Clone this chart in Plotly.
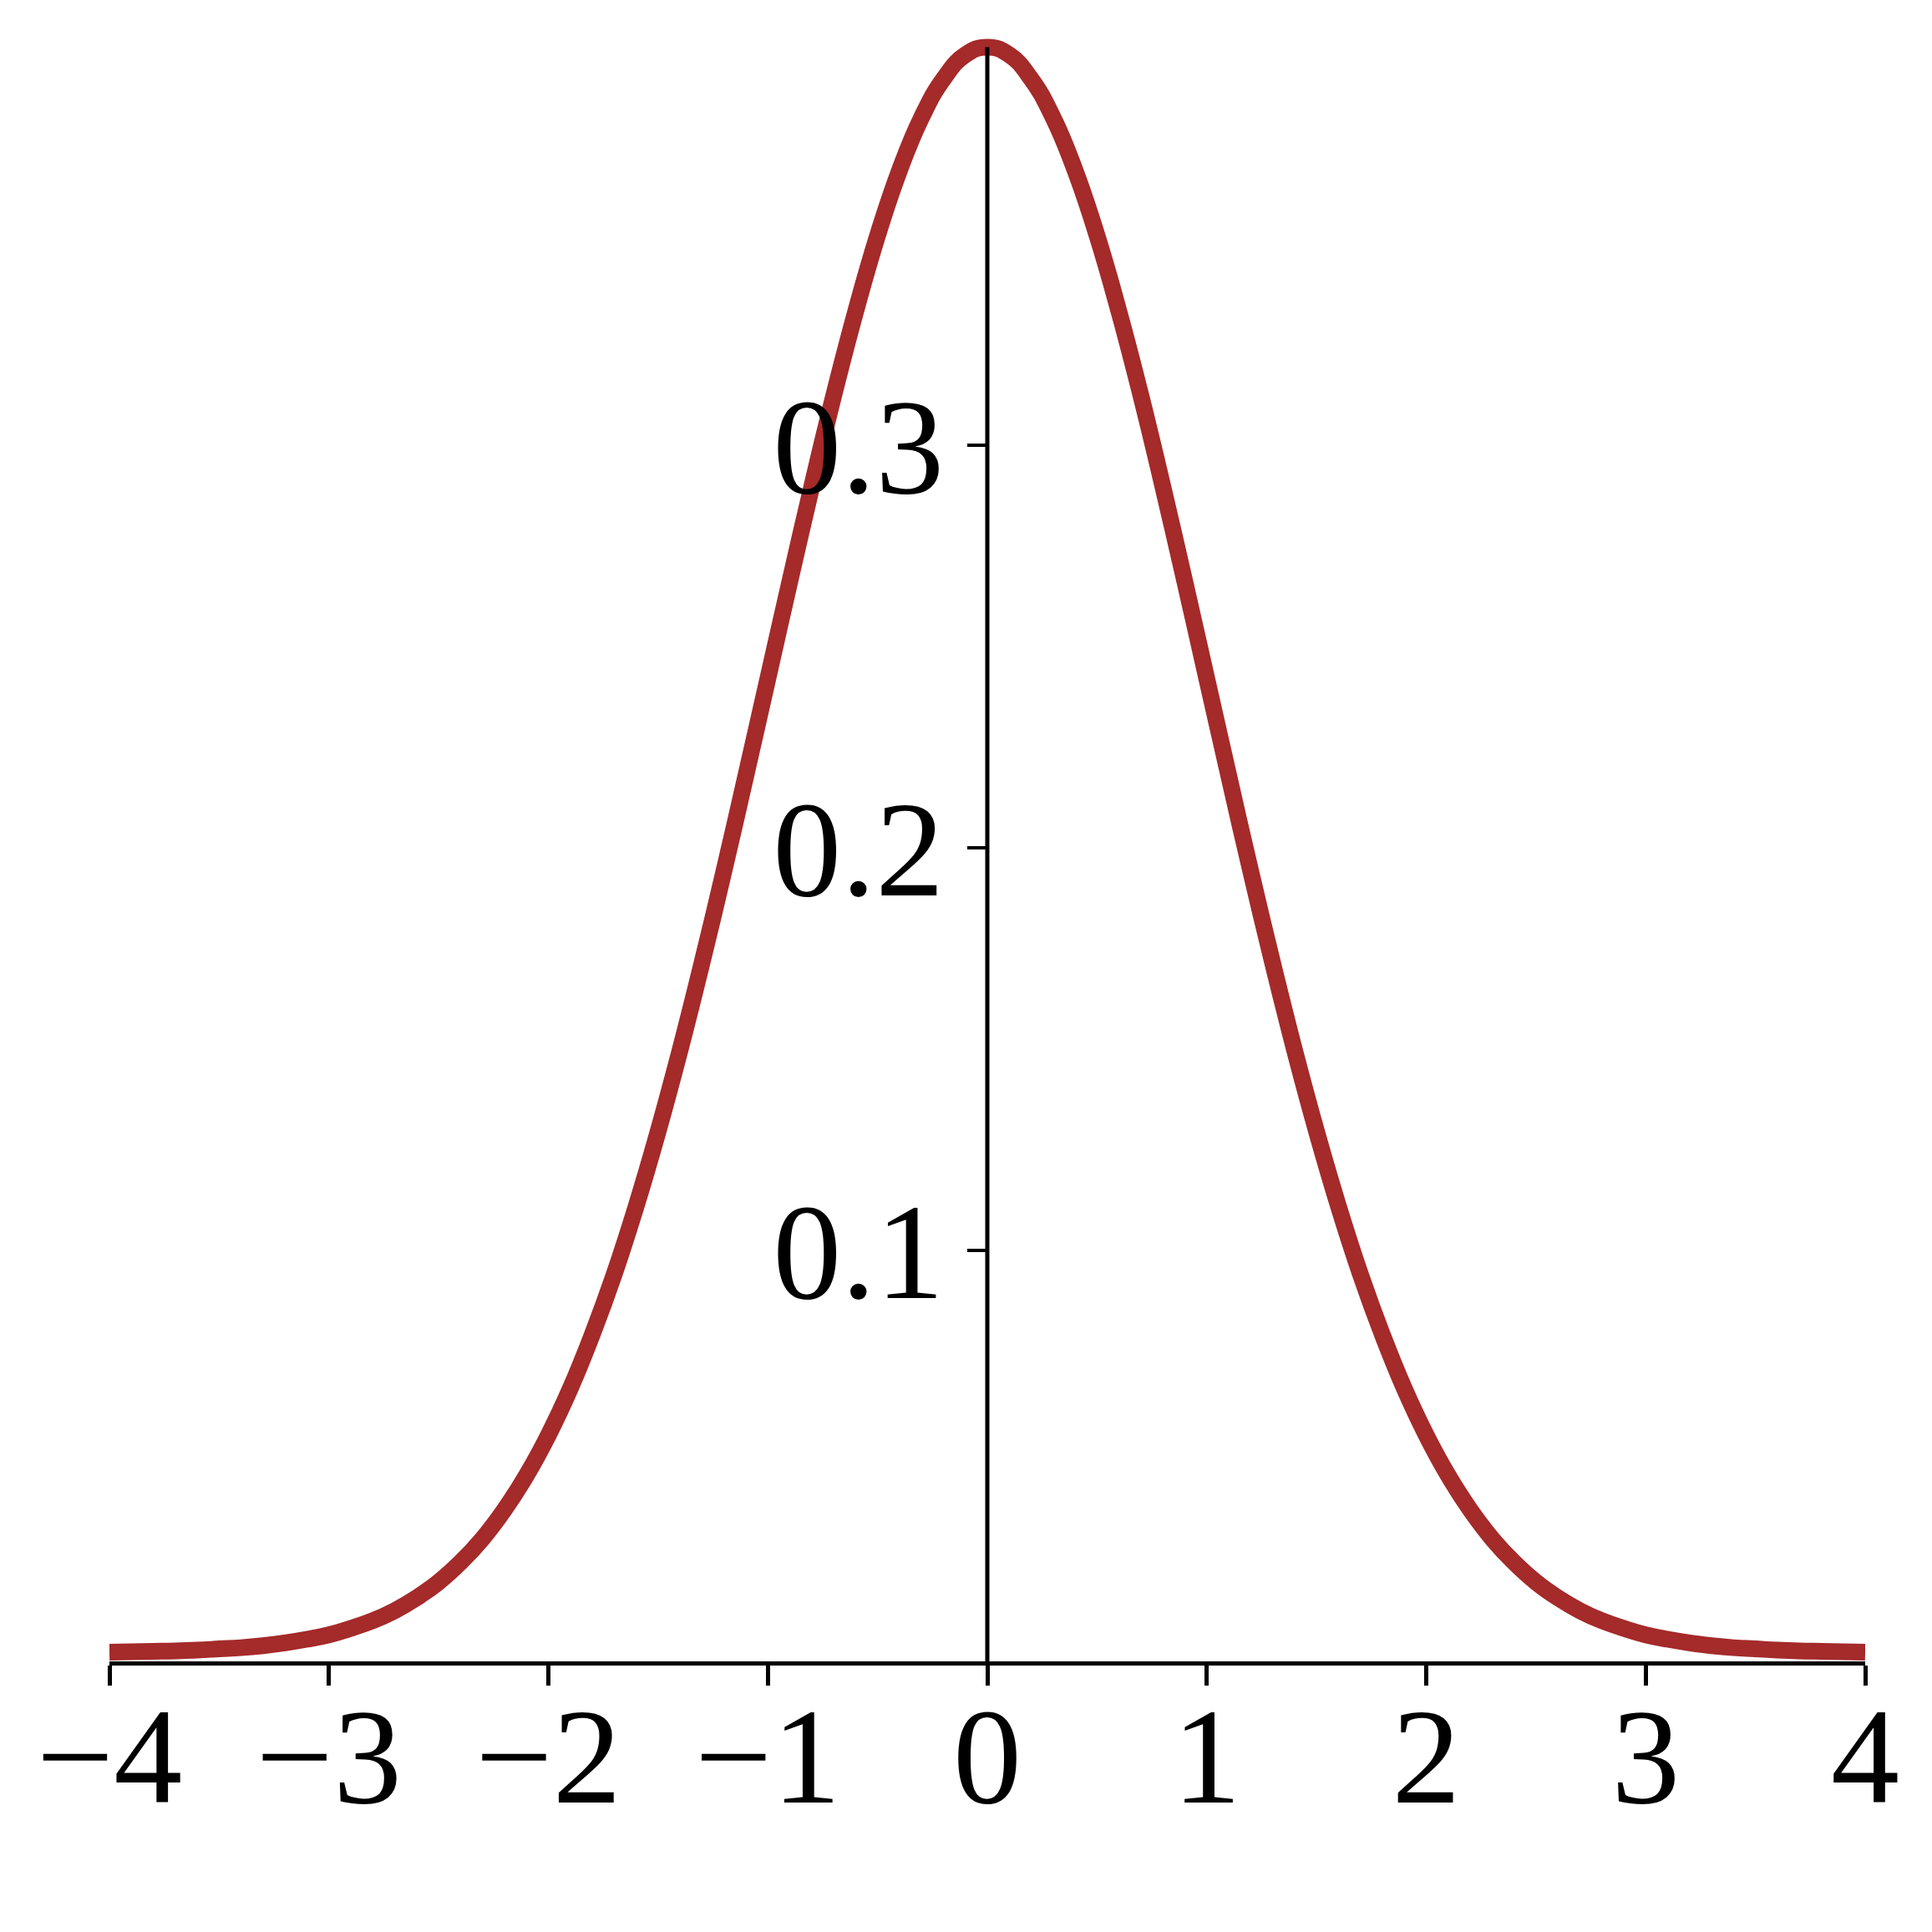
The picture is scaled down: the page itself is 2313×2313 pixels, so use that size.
import plotly.graph_objects as go

# values
x_values = [-4.0, -3.9, -3.8, -3.7, -3.6, -3.5, -3.4, -3.3, -3.2, -3.1,
            -3.0, -2.9, -2.8, -2.7, -2.6, -2.5, -2.4, -2.3, -2.2, -2.1,
            -2.0, -1.9, -1.8, -1.7, -1.6, -1.5, -1.4, -1.3, -1.2, -1.1,
            -1.0, -0.9, -0.8, -0.7, -0.6, -0.5, -0.4, -0.3, -0.2, -0.1,
            0.0, 0.1, 0.2, 0.3, 0.4, 0.5, 0.6, 0.7, 0.8, 0.9,
            1.0, 1.1, 1.2, 1.3, 1.4, 1.5, 1.6, 1.7, 1.8, 1.9,
            2.0, 2.1, 2.2, 2.3, 2.4, 2.5, 2.6, 2.7, 2.8, 2.9,
            3.0, 3.1, 3.2, 3.3, 3.4, 3.5, 3.6, 3.7, 3.8, 3.9, 4.0]
y_values = [0.0001, 0.0002, 0.0003, 0.0004, 0.0006, 0.0009, 0.0012, 0.0017, 0.0024, 0.0033,
            0.0044, 0.0060, 0.0079, 0.0104, 0.0136, 0.0175, 0.0224, 0.0283, 0.0355, 0.0440,
            0.0540, 0.0656, 0.0790, 0.0940, 0.1109, 0.1295, 0.1497, 0.1714, 0.1942, 0.2179,
            0.2420, 0.2661, 0.2897, 0.3123, 0.3332, 0.3521, 0.3683, 0.3814, 0.3910, 0.3970,
            0.3989, 0.3970, 0.3910, 0.3814, 0.3683, 0.3521, 0.3332, 0.3123, 0.2897, 0.2661,
            0.2420, 0.2179, 0.1942, 0.1714, 0.1497, 0.1295, 0.1109, 0.0940, 0.0790, 0.0656,
            0.0540, 0.0440, 0.0355, 0.0283, 0.0224, 0.0175, 0.0136, 0.0104, 0.0079, 0.0060,
            0.0044, 0.0033, 0.0024, 0.0017, 0.0012, 0.0009, 0.0006, 0.0004, 0.0003, 0.0002, 0.0001]

x_ticks = [-4, -3, -2, -1, 0, 1, 2, 3, 4]
x_tick_labels = ["\u22124", "\u22123", "\u22122", "\u22121", "0", "1", "2", "3", "4"]
y_ticks = [0.1, 0.2, 0.3]
y_tick_labels = ["0.1", "0.2", "0.3"]

y_bottom = -0.0022
y_top = 0.3989

font = dict(family="Liberation Serif", size=164, color="black")

fig = go.Figure()
fig.add_trace(go.Scatter(
    x=x_values, y=y_values, mode="lines",
    line=dict(color="#A52A2A", width=20, shape="spline", smoothing=1.3),
    hoverinfo="skip", showlegend=False,
))

# vertical axis through x = 0
fig.add_shape(type="line", xref="x", yref="y", x0=0, x1=0, y0=y_bottom, y1=y_top,
              line=dict(color="black", width=5), layer="above")

fig.update_layout(
    width=2313, height=2313,
    margin=dict(l=131, r=80, t=44, b=324),
    paper_bgcolor="white", plot_bgcolor="white",
    showlegend=False,
    xaxis=dict(
        range=[-4, 4], showgrid=False, zeroline=False,
        showline=True, linecolor="black", linewidth=5,
        ticks="outside", ticklen=24, tickwidth=5, tickcolor="black",
        tickmode="array", tickvals=x_ticks, ticktext=x_tick_labels,
        tickfont=font, ticklabelstandoff=-57,
    ),
    yaxis=dict(
        range=[y_bottom, 0.4015], showgrid=False, zeroline=False,
        showline=False, anchor="free", position=0.5,
        ticks="outside", ticklen=24, tickwidth=4, tickcolor="black",
        tickmode="array", tickvals=y_ticks, ticktext=y_tick_labels,
        tickfont=font, ticklabelstandoff=-5,
    ),
)

fig.write_html("out.html", config={"displayModeBar": False},
               post_script="document.body.style.margin='0';")
